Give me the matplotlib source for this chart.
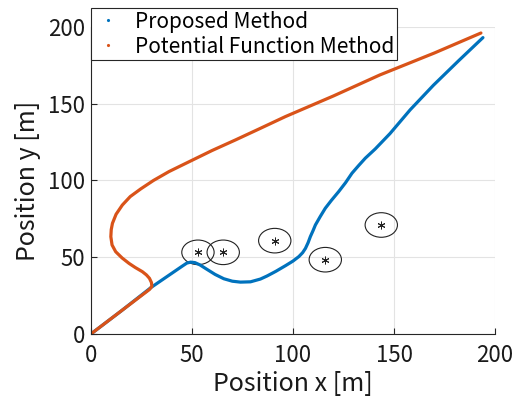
import numpy as np
import matplotlib.pyplot as plt
from matplotlib.patches import Ellipse
from matplotlib.lines import Line2D

plt.rcParams['font.family'] = ['Noto Sans CJK JP', 'DejaVu Sans']

# proposed method path
prop_x = [0, 15, 30, 40, 45, 47.5, 49.4, 51.5, 54, 57.6, 61.5, 65.8, 70, 74, 79,
          83.9, 87.2, 91.5, 96.3, 100, 102.9, 104.8, 106.2, 107.5, 108.6, 110,
          111.1, 113.5, 116, 119, 122.6, 126, 129.2, 132.5, 135.8, 140.7, 148,
          158, 169.5, 182, 194]
prop_y = [0, 15, 30.5, 39.5, 44, 46.2, 46.8, 46.5, 45, 42, 38.8, 36, 34.4, 33.8, 34,
          35.8, 37.8, 40.8, 44.5, 47.5, 50.4, 53, 55.8, 59.5, 63.4, 67.5,
          71, 76.5, 81.9, 87, 92.7, 98.5, 104.7, 109.7, 114.5, 120.5, 130.5,
          146, 162, 178, 193]

# potential function method path
pot_x = [0, 15, 29, 30.2, 30, 29, 27.5, 25.5, 22, 18.9, 15.5, 12.3, 10.5, 9.9,
         10.1, 10.7, 12.5, 15.6, 19.5, 24.7, 31, 38.7, 50.5, 60, 71.6, 84, 96.3,
         120, 143, 170, 193]
pot_y = [0, 15, 29, 31, 33.5, 36.3, 38.5, 40.6, 43.3, 46, 49.5, 53.6, 58, 63.4,
         68, 72.1, 78, 84, 89.5, 94.5, 100, 105.8, 113.4, 119.5, 126.4, 134, 141.6,
         155, 168.7, 183, 196]

# obstacles
obs_x = [53, 65.5, 91, 116, 143.7]
obs_y = [53.2, 53.2, 60.8, 48.4, 71]
obs_r = 8

fig = plt.figure(figsize=(5.25, 4.01), dpi=100)
ax = fig.add_axes([0.173, 0.167, 0.770, 0.766])

blue = '#0072BD'
orange = '#D95319'

ax.plot(prop_x, prop_y, color=blue, linewidth=2.3, solid_capstyle='round',
        solid_joinstyle='round')
ax.plot(pot_x, pot_y, color=orange, linewidth=2.3, solid_capstyle='round',
        solid_joinstyle='round')

for ox, oy in zip(obs_x, obs_y):
    ax.add_patch(Ellipse((ox, oy), 2 * obs_r, 2 * obs_r, fill=False,
                         edgecolor='#222222', linewidth=0.8))
ax.plot(obs_x, obs_y, linestyle='none', marker=(6, 2, 0), color='#222222',
        markersize=5.5, markeredgewidth=0.7)

ax.set_xlim(0, 200)
ax.set_ylim(0, 200)
ax.set_xticks([0, 50, 100, 150, 200])
ax.set_yticks([0, 50, 100, 150, 200])
ax.grid(True, color='#e3e3e3', linewidth=0.8)
ax.set_axisbelow(True)
for s in ['top', 'right']:
    ax.spines[s].set_visible(False)
for s in ['left', 'bottom']:
    ax.spines[s].set_color('#262626')
    ax.spines[s].set_linewidth(0.8)
ax.tick_params(direction='in', length=4, width=0.8, color='#262626',
               labelsize=16, labelcolor='#1a1a1a', pad=4)
ax.tick_params(axis='x', pad=7)

ax.set_xlabel('Position x [m]', fontsize=18, color='#1a1a1a', labelpad=3)
ax.set_ylabel('Position y [m]', fontsize=18, color='#1a1a1a', labelpad=5)

handles = [Line2D([], [], linestyle='none', marker='.', markersize=2.5, color=blue),
           Line2D([], [], linestyle='none', marker='.', markersize=2.5, color=orange)]
leg = fig.legend(handles, ['Proposed Method', 'Potential Function Method'],
                 loc='upper left', bbox_to_anchor=(0.173, 0.98),
                 bbox_transform=fig.transFigure, fontsize=15, frameon=True,
                 fancybox=False, framealpha=1, edgecolor='#262626',
                 borderpad=0.12, labelspacing=0.15, handlelength=1.4,
                 handletextpad=0.6, borderaxespad=0)
leg.get_frame().set_linewidth(0.8)

fig.savefig('out.png', dpi=100)
plt.close(fig)
